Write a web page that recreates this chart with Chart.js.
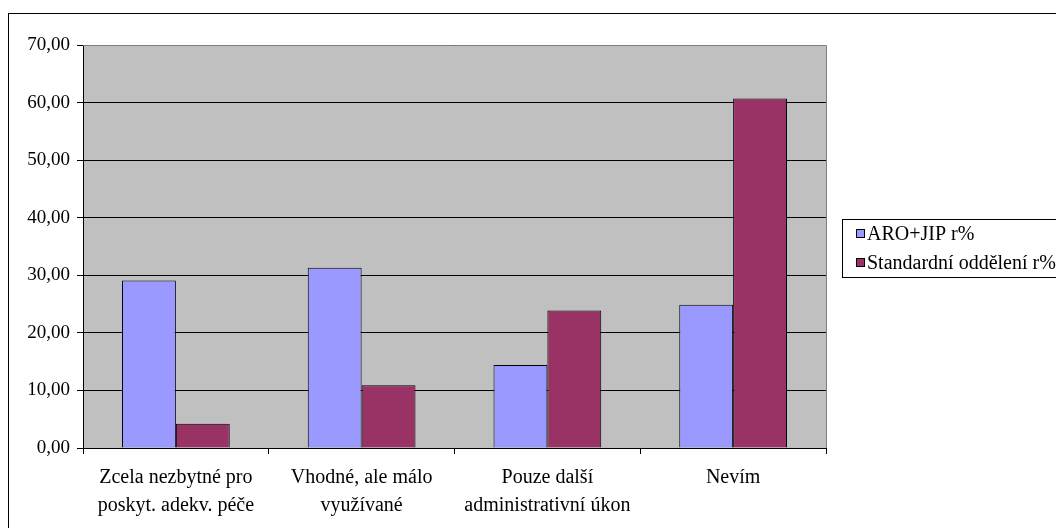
<!DOCTYPE html>
<html lang="cs">
<head>
  <meta charset="UTF-8" />
  <title>ARO+JIP vs. Standardní oddělení</title>
  <script src="https://cdn.jsdelivr.net/npm/chart.js"></script>
  <style>
    html, body {
      margin: 0;
      padding: 0;
      background: #fff;
      overflow: hidden;
    }
    .wrap {
      width: 1056px;
      height: 528px;
      overflow: hidden;
      position: relative;
    }
    canvas {
      display: block;
    }
  </style>
</head>
<body>
  <div class="wrap">
    <canvas id="graf" width="1070" height="545"></canvas>
  </div>

  <script>
    // data
    const kategorie = [
      ["Zcela nezbytné pro", "poskyt. adekv. péče"],
      ["Vhodné, ale málo", "využívané"],
      ["Pouze další", "administrativní úkon"],
      ["Nevím"]
    ];
    const aroJip = [29.1, 31.3, 14.4, 24.9];
    const standardni = [4.2, 10.9, 23.9, 60.7];
    const nazvySerii = ["ARO+JIP r%", "Standardní oddělení r%"];
    const barvy = ["#9999FF", "#993366"];

    const pismo = "'Liberation Serif', 'Times New Roman', serif";

    // white page, outer frame and grey plot area
    const pozadi = {
      id: "pozadi",
      beforeDraw(chart) {
        const ctx = chart.ctx;
        const a = chart.chartArea;
        ctx.save();
        ctx.fillStyle = "#fff";
        ctx.fillRect(0, 0, chart.width, chart.height);
        ctx.strokeStyle = "#000";
        ctx.lineWidth = 1;
        ctx.strokeRect(8.5, 13.5, chart.width - 10, chart.height - 16);
        ctx.fillStyle = "#C0C0C0";
        ctx.fillRect(a.left, a.top, a.right - a.left, a.bottom - a.top);
        ctx.restore();
      },
      afterDatasetsDraw(chart) {
        const ctx = chart.ctx;
        const a = chart.chartArea;
        ctx.save();
        ctx.strokeStyle = "#808080";
        ctx.lineWidth = 1;
        ctx.beginPath();
        ctx.moveTo(a.left, Math.round(a.top) + 0.5);
        ctx.lineTo(Math.round(a.right) + 0.5, Math.round(a.top) + 0.5);
        ctx.lineTo(Math.round(a.right) + 0.5, a.bottom);
        ctx.stroke();
        ctx.restore();
      }
    };

    // Excel-like legend box to the right of the plot
    const legenda = {
      id: "legenda",
      afterDraw(chart) {
        const ctx = chart.ctx;
        const x0 = 842.5, y0 = 219.5, x1 = 1066, y1 = 277.5;
        ctx.save();
        ctx.fillStyle = "#fff";
        ctx.fillRect(x0, y0, x1 - x0, y1 - y0);
        ctx.strokeStyle = "#000";
        ctx.lineWidth = 1;
        ctx.strokeRect(x0, y0, x1 - x0, y1 - y0);
        ctx.font = "20px " + pismo;
        ctx.textBaseline = "middle";
        chart.data.datasets.forEach((ds, i) => {
          const y = 234 + i * 29;
          ctx.fillStyle = ds.backgroundColor;
          ctx.fillRect(856.5, y - 4.5, 8, 8);
          ctx.strokeRect(856.5, y - 4.5, 8, 8);
          ctx.fillStyle = "#000";
          ctx.fillText(ds.label, 867, y + 1);
        });
        ctx.restore();
      }
    };

    new Chart(document.getElementById("graf"), {
      type: "bar",
      data: {
        labels: kategorie,
        datasets: [
          {
            label: nazvySerii[0],
            data: aroJip,
            backgroundColor: barvy[0],
            borderColor: "#000",
            borderWidth: 1
          },
          {
            label: nazvySerii[1],
            data: standardni,
            backgroundColor: barvy[1],
            borderColor: "#000",
            borderWidth: 1
          }
        ]
      },
      options: {
        responsive: false,
        animation: false,
        devicePixelRatio: 1,
        layout: { padding: { top: 45, right: 244, left: 0, bottom: 0 } },
        datasets: {
          bar: { categoryPercentage: 0.58, barPercentage: 1 }
        },
        scales: {
          x: {
            afterFit: (s) => { s.height = 97; },
            grid: {
              offset: true,
              drawOnChartArea: false,
              drawTicks: true,
              tickLength: 6,
              color: "#000"
            },
            border: { color: "#000", width: 1 },
            ticks: {
              color: "#000",
              font: { family: pismo, size: 20, lineHeight: 1.4 },
              padding: 10,
              maxRotation: 0
            }
          },
          y: {
            min: 0,
            max: 70,
            afterFit: (s) => { s.width = 83; },
            grid: {
              color: "#000",
              tickLength: 6
            },
            border: { color: "#000", width: 1 },
            ticks: {
              stepSize: 10,
              color: "#000",
              padding: 7,
              font: { family: pismo, size: 19 },
              callback: (v) => v.toFixed(2).replace(".", ",")
            }
          }
        },
        plugins: {
          legend: { display: false },
          tooltip: { enabled: false }
        }
      },
      plugins: [pozadi, legenda]
    });
  </script>
</body>
</html>
